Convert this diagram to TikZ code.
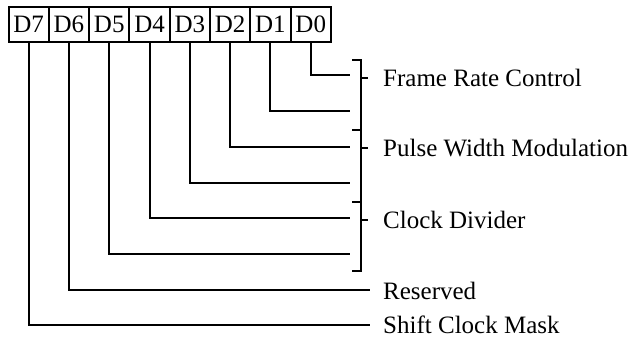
\documentclass[tikz,border=0pt]{standalone}
\usepackage{fontspec}
\setmainfont{Liberation Serif}
\begin{document}
\begin{tikzpicture}[x=1pt,y=-1pt,
  bitbox/.style={draw, line width=2pt, minimum width=40.3pt, minimum height=35pt, inner sep=0pt, anchor=north west, font=\fontsize{25}{29}\selectfont},
  wire/.style={line width=2pt},
  lbl/.style={anchor=base west, inner sep=0pt, text depth=0pt, font=\fontsize{25}{29}\selectfont}]
\useasboundingbox (0,0) rectangle (633,337);
% bit boxes
\foreach \k in {7,...,0}{
  \node[bitbox] (b\k) at ({7.5+40.3*(7-\k)},6) {D\k};
}
% line ends
\foreach \k/\yy in {0/75,1/111,2/147,3/183,4/218,5/254}{
  \coordinate (e\k) at (350,\yy);
}
\coordinate (e6) at (370,290);
\coordinate (e7) at (370,325);
\foreach \k in {0,...,7}{
  \draw[wire] (b\k.south) |- (e\k);
}
% brackets
\draw[wire] (352,60) -- (361,60) -- (361,271) -- (352,271);
\draw[wire] (352,130) -- (361,130);
\draw[wire] (352,202) -- (361,202);
\draw[wire] (361,78) -- (368,78);
\draw[wire] (361,148) -- (368,148);
\draw[wire] (361,220) -- (368,220);
% labels
\node[lbl] (frc) at (383,86.5) {Frame Rate Control};
\node[lbl] (pwm) at (383,157) {Pulse Width Modulation};
\node[lbl] (cd) at (383,228) {Clock Divider};
\node[lbl] (res) at (383,299) {Reserved};
\node[lbl] (scm) at (383,333) {Shift Clock Mask};
\end{tikzpicture}
\end{document}
